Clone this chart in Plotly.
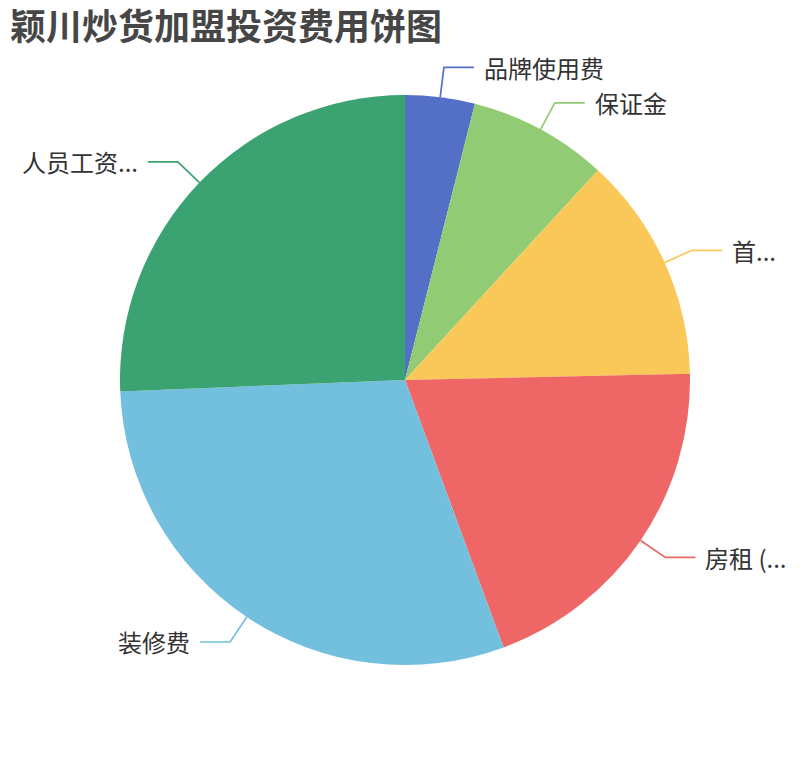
import math
import plotly.graph_objects as go

# ---- data ----
categories = ["品牌使用费", "保证金", "首批进货", "房租（年）", "装修费", "人员工资（年）"]
display_labels = ["品牌使用费", "保证金", "首...", "房租 (...", "装修费", "人员工资..."]
values = [2, 4, 6.5, 10, 15.2, 13]
colors = ["#5470c6", "#91cc75", "#fac858", "#ee6666", "#73c0de", "#3ba272"]
title_text = "颖川炒货加盟投资费用饼图"

W, H = 810, 760
OFF = 8  # page body margin
CX, CY, R = 405 - OFF, 380 - OFF, 285
SEG1, SEG2, GAP = 30, 30, 8

fig = go.Figure(go.Pie(
    labels=categories,
    values=values,
    sort=False,
    direction="clockwise",
    rotation=0,
    textinfo="none",
    marker=dict(colors=colors, line=dict(width=0)),
    domain=dict(x=[(CX - R) / W, (CX + R) / W], y=[1 - (CY + R) / H, 1 - (CY - R) / H]),
    hoverinfo="label+value+percent",
))

def px(x):
    return x / W

def py(y):
    return 1 - y / H

total = sum(values)
cum = 0
shapes = []
annotations = []
for lab, v, c in zip(display_labels, values, colors):
    mid = (cum + v / 2) / total * 2 * math.pi
    cum += v
    sx, sy = math.sin(mid), -math.cos(mid)
    x0, y0 = CX + R * sx, CY + R * sy
    x1, y1 = CX + (R + SEG1) * sx, CY + (R + SEG1) * sy
    right = sx >= 0
    x2 = x1 + SEG2 if right else x1 - SEG2
    path = f"M {px(x0)} {py(y0)} L {px(x1)} {py(y1)} L {px(x2)} {py(y1)}"
    shapes.append(dict(type="path", xref="paper", yref="paper", path=path,
                       line=dict(color=c, width=1.7)))
    tx = x2 + GAP if right else x2 - GAP
    annotations.append(dict(x=px(tx), y=py(y1), xref="paper", yref="paper",
                            text=lab, showarrow=False,
                            xanchor="left" if right else "right", yanchor="middle",
                            font=dict(size=24, color="#333333",
                                      family="Noto Sans CJK SC, sans-serif")))

fig.update_layout(
    width=W, height=H,
    margin=dict(l=0, r=0, t=0, b=0),
    paper_bgcolor="white",
    showlegend=False,
    shapes=shapes,
    annotations=annotations,
    title=dict(text=f"<b>{title_text}</b>", x=(10 - OFF) / W, xanchor="left",
               y=1 - (27 - OFF) / H, yanchor="middle",
               font=dict(size=36, color="#464646", family="Noto Sans CJK SC, sans-serif")),
)

fig.write_html("out.html")
